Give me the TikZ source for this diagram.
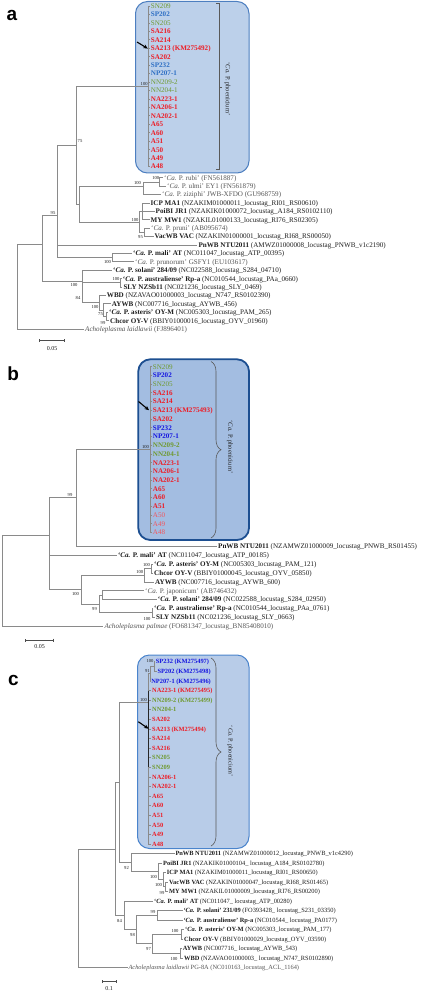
\documentclass[tikz,border=0pt]{standalone}
\usepackage{fontspec}
\setmainfont{Liberation Serif}
\newfontfamily\panelfont{Liberation Sans}
\usetikzlibrary{arrows.meta,decorations.pathreplacing}
\definecolor{treegray}{HTML}{8A8A8A}
\definecolor{txt}{HTML}{1E1E1E}
\definecolor{spgray}{HTML}{555555}
\definecolor{phred}{HTML}{EE1C25}
\definecolor{phgreen}{HTML}{6F9A2F}
\definecolor{phblueA}{HTML}{2E6FC4}
\definecolor{phblueB}{HTML}{1616E0}
\definecolor{boxAfill}{HTML}{BCD0EA}
\definecolor{boxAline}{HTML}{4D7FC0}
\definecolor{boxBfill}{HTML}{A3BDE1}
\definecolor{boxBline}{HTML}{1D4F91}
\definecolor{boxCfill}{HTML}{B8CCE8}
\definecolor{boxCline}{HTML}{4A84CC}
\newcommand\caP[1]{`\textit{Ca.} P. #1'}
\newcommand\tnode[4]{\coordinate (#1) at (#3,#4); \draw[br] (#2) |- (#1);}
\newcommand\tleaf[6]{\coordinate (#1) at (#3,#4); \draw[br] (#2) |- (#1); \node[#5] (#1t) at (#1) {#6};}
\begin{document}
\begin{tikzpicture}[x=1pt,y=-1pt,
  br/.style={draw=treegray, line width=0.75pt},
  boxA/.style={fill=boxAfill, draw=boxAline, line width=1pt, rounded corners=12pt},
  boxB/.style={fill=boxBfill, draw=boxBline, line width=1.8pt, rounded corners=12pt},
  boxC/.style={fill=boxCfill, draw=boxCline, line width=1pt, rounded corners=12pt},
  arr/.style={-{Stealth[length=4.5pt,width=4pt]}, line width=1.1pt, black},
  sbar/.style={draw=black!70, line width=0.7pt, {Bar[width=3pt]}-{Bar[width=3pt]}},
  brk/.style={draw=black!65, line width=0.6pt},
  brc/.style={draw=black!65, line width=0.6pt, decorate, decoration={brace, amplitude=10pt}},
  boot/.style={inner sep=0pt, font=\fontsize{4.6}{5}\selectfont, text=txt},
  sbt/.style={inner sep=0pt, font=\fontsize{6}{7}\selectfont, text=txt},
  labA/.style={inner sep=0pt, anchor=base west, xshift=1pt, yshift=-2.4pt, font=\fontsize{7.1}{8}\selectfont, text=txt},
  labC/.style={inner sep=0pt, anchor=base west, xshift=0.8pt, yshift=-2.2pt, font=\fontsize{6.4}{7}\selectfont, text=txt},
  spc/.style={text=spgray},
  bfx/.style={execute at begin node=\bfseries},
  rdc/.style={text=phred, bfx},
  lrc/.style={text=phred!75},
  gnc/.style={text=phgreen},
  gnb/.style={text=phgreen, bfx},
  blA/.style={text=phblueA, bfx},
  blB/.style={text=phblueB, bfx},
  phoe/.style={inner sep=0pt, rotate=-90, font=\fontsize{6.5}{7}\selectfont, text=txt},
  panel/.style={inner sep=0pt, font=\panelfont\bfseries\fontsize{19}{19}\selectfont}]
\useasboundingbox (0,0) rectangle (420,992);
\fill[white] (0,0) rectangle (420,992);

% ================= PANEL A =================
\node[panel] (pa) at (12,15) {a};
\draw[boxA] (135.5,1.5) rectangle (249,173);
\coordinate (Ra) at (17.7,244);
\tnode{N1a}{Ra}{42.3}{244}
\tnode{N2a}{N1a}{57.3}{215.7}
\tnode{N3a}{N2a}{76}{144.9}
\coordinate (cA) at (148.3,86.3); \draw[br] (N3a) |- (cA);
\tleaf{a0}{cA}{149.7}{6}{labA,gnc}{SN209}
\tleaf{a1}{cA}{149.7}{14.45}{labA,blA}{SP202}
\tleaf{a2}{cA}{149.7}{22.9}{labA,gnc}{SN205}
\tleaf{a3}{cA}{149.7}{31.35}{labA,rdc}{SA216}
\tleaf{a4}{cA}{149.7}{39.8}{labA,rdc}{SA214}
\tleaf{a5}{cA}{149.7}{48.25}{labA,rdc}{SA213 (KM275492)}
\tleaf{a6}{cA}{149.7}{56.7}{labA,rdc}{SA202}
\tleaf{a7}{cA}{149.7}{65.15}{labA,blA}{SP232}
\tleaf{a8}{cA}{149.7}{73.6}{labA,blA}{NP207-1}
\tleaf{a9}{cA}{149.7}{82.05}{labA,gnc}{NN209-2}
\tleaf{a10}{cA}{149.7}{90.5}{labA,gnc}{NN204-1}
\tleaf{a11}{cA}{149.7}{98.95}{labA,rdc}{NA223-1}
\tleaf{a12}{cA}{149.7}{107.4}{labA,rdc}{NA206-1}
\tleaf{a13}{cA}{149.7}{115.85}{labA,rdc}{NA202-1}
\tleaf{a14}{cA}{149.7}{124.3}{labA,rdc}{A65}
\tleaf{a15}{cA}{149.7}{132.75}{labA,rdc}{A60}
\tleaf{a16}{cA}{149.7}{141.2}{labA,rdc}{A51}
\tleaf{a17}{cA}{149.7}{149.65}{labA,rdc}{A50}
\tleaf{a18}{cA}{149.7}{158.1}{labA,rdc}{A49}
\tleaf{a19}{cA}{149.7}{166.55}{labA,rdc}{A48}
\tnode{N5a}{N3a}{79.5}{204}
\tnode{G1a}{N5a}{143.5}{186.1}
\tnode{G2a}{G1a}{159.5}{182}
\tleaf{rubiA}{G2a}{163}{177.8}{labA,spc}{\caP{rubi} (FN561887)}
\tleaf{ulmiA}{G2a}{166}{186.2}{labA,spc}{\caP{ulmi} EY1 (FN561879)}
\tleaf{ziziA}{G1a}{161}{194.6}{labA,spc}{\caP{ziziphi} JWB-XFDO (GU968759)}
\tnode{G3a}{N5a}{139.5}{221.9}
\tnode{G4a}{G3a}{142.5}{211.4}
\tleaf{icpA}{G4a}{149.5}{203}{labA}{\textbf{ICP MA1} (NZAKIM01000011\_locustag\_RI01\_RS00610)}
\tleaf{poiA}{G4a}{154.5}{211.4}{labA}{\textbf{PoiBI JR1} (NZAKIK01000072\_locustag\_A184\_RS0102110)}
\tleaf{myA}{G4a}{149.5}{219.8}{labA}{\textbf{MY MW1} (NZAKIL01000133\_locustag\_RI76\_RS02305)}
\tnode{G5a}{G3a}{144.5}{232.4}
\tleaf{pruA}{G5a}{150}{228.2}{labA,spc}{\caP{pruni} (AB095674)}
\tleaf{vacA}{G5a}{153.5}{236.6}{labA}{\textbf{VacWB VAC} (NZAKIN01000001\_locustag\_RI68\_RS00050)}
\tleaf{pnA}{N2a}{197.3}{245}{labA}{\textbf{PnWB NTU2011} (AMWZ01000008\_locustag\_PNWB\_v1c2190)}
\tnode{Ma}{N2a}{112}{257.6}
\tleaf{maliA}{Ma}{132}{253.4}{labA}{\textbf{\caP{mali} AT} (NC011047\_locustag\_ATP\_00395)}
\tleaf{pnmA}{Ma}{134}{261.8}{labA,spc}{\caP{prunorum} GSFY1 (EU103617)}
\tnode{N4a}{N1a}{82}{281}
\tleaf{solA}{N4a}{112}{270.2}{labA}{\textbf{\caP{solani} 284/09} (NC022588\_locustag\_S284\_04710)}
\tnode{AUa}{N4a}{120}{282.8}
\tleaf{ausA}{AUa}{121.7}{278.6}{labA}{\textbf{\caP{australiense} Rp-a} (NC010544\_locustag\_PAa\_0660)}
\tleaf{slyA}{AUa}{122.3}{287}{labA}{\textbf{SLY NZSb11} (NC021236\_locustag\_SLY\_0469)}
\tnode{N6a}{N4a}{99}{302.75}
\tleaf{wbdA}{N6a}{105.7}{295.4}{labA}{\textbf{WBD} (NZAVAO01000003\_locustag\_N747\_RS0102390)}
\tnode{N7a}{N6a}{103.5}{310.1}
\tleaf{aywA}{N7a}{110.7}{303.8}{labA}{\textbf{AYWB} (NC007716\_locustag\_AYWB\_456)}
\tnode{N8a}{N7a}{106}{316.4}
\tleaf{astA}{N8a}{108}{312.2}{labA}{\textbf{\caP{asteris} OY-M} (NC005303\_locustag\_PAM\_265)}
\tleaf{chcA}{N8a}{109}{320.6}{labA}{\textbf{Chcor OY-V} (BBIY01000016\_locustag\_OYV\_01960)}
\tleaf{achA}{Ra}{84}{329}{labA,spc}{\textit{Acholeplasma laidlawii} (FJ896401)}
% bootstrap a
\node[boot,anchor=south east] (bA1) at (147.8,86) {100};
\node[boot] (bA2) at (80,141) {75};
\node[boot] (bA3) at (53,212.5) {95};
\node[boot] (bA4) at (137.5,182.5) {100};
\node[boot] (bA5) at (155.8,178.2) {100};
\node[boot] (bA6) at (135,219.6) {100};
\node[boot] (bA7) at (140.5,236.8) {95};
\node[boot] (bA8) at (107.5,262) {100};
\node[boot] (bA9) at (116,279) {100};
\node[boot] (bA10) at (74,285) {100};
\node[boot] (bA11) at (78,297.5) {84};
\node[boot] (bA12) at (95,306.7) {100};
\node[boot] (bA13) at (100.5,314.3) {75};
\node[boot] (bA14) at (103,322.5) {99};
% bracket, label, arrow, scale a
\coordinate (brA1) at (216,3.3); \coordinate (brA2) at (219.5,3.3);
\coordinate (brA3) at (219.5,169.8); \coordinate (brA4) at (216,169.8);
\coordinate (brA5) at (219.5,87); \coordinate (brA6) at (221.8,87);
\draw[brk] (brA1) -- (brA2) -- (brA3) -- (brA4);
\draw[brk] (brA5) -- (brA6);
\node[phoe] (phA) at (227.5,89) {\caP{phoenicium}};
\coordinate (arA1) at (137,42); \coordinate (arA2) at (147.8,48.6);
\draw[arr] (arA1) -- (arA2);
\coordinate (sbA1) at (39.3,340.7); \coordinate (sbA2) at (65,340.7);
\draw[sbar] (sbA1) -- (sbA2);
\node[sbt] (sbAt) at (52.2,348.5) {0.05};

% ================= PANEL B =================
\node[panel] (pb) at (13.3,373.3) {b};
\draw[boxB] (138.3,359.3) rectangle (249,540);
\coordinate (Rb) at (2,535);
\tnode{B1b}{Rb}{49.3}{535}
\tnode{B2b}{B1b}{76}{497.8}
\coordinate (cB) at (150.5,449.54); \draw[br] (B2b) |- (cB);
\tleaf{b0}{cB}{151.7}{366.7}{labA,gnc}{SN209}
\tleaf{b1}{cB}{151.7}{375.42}{labA,blB}{SP202}
\tleaf{b2}{cB}{151.7}{384.14}{labA,gnc}{SN205}
\tleaf{b3}{cB}{151.7}{392.86}{labA,rdc}{SA216}
\tleaf{b4}{cB}{151.7}{401.58}{labA,rdc}{SA214}
\tleaf{b5}{cB}{151.7}{410.3}{labA,rdc}{SA213 (KM275493)}
\tleaf{b6}{cB}{151.7}{419.02}{labA,rdc}{SA202}
\tleaf{b7}{cB}{151.7}{427.74}{labA,blB}{SP232}
\tleaf{b8}{cB}{151.7}{436.46}{labA,blB}{NP207-1}
\tleaf{b9}{cB}{151.7}{445.18}{labA,gnb}{NN209-2}
\tleaf{b10}{cB}{151.7}{453.9}{labA,gnb}{NN204-1}
\tleaf{b11}{cB}{151.7}{462.62}{labA,rdc}{NA223-1}
\tleaf{b12}{cB}{151.7}{471.34}{labA,rdc}{NA206-1}
\tleaf{b13}{cB}{151.7}{480.06}{labA,rdc}{NA202-1}
\tleaf{b14}{cB}{151.7}{488.78}{labA,rdc}{A65}
\tleaf{b15}{cB}{151.7}{497.5}{labA,rdc}{A60}
\tleaf{b16}{cB}{151.7}{506.22}{labA,rdc}{A51}
\tleaf{b17}{cB}{151.7}{514.94}{labA,lrc}{A50}
\tleaf{b18}{cB}{151.7}{523.66}{labA,lrc}{A49}
\tleaf{b19}{cB}{151.7}{532.38}{labA,lrc}{A48}
\tleaf{pnB}{B2b}{217}{546}{labA}{\textbf{PnWB NTU2011} (NZAMWZ01000009\_locustag\_PNWB\_RS01455)}
\tleaf{maliB}{B1b}{116.8}{555.5}{labA}{\textbf{\caP{mali} AT} (NC011047\_locustag\_ATP\_00185)}
\tnode{B3b}{B1b}{81.7}{589.6}
\tnode{C1b}{B3b}{144.3}{575.3}
\tnode{C2b}{C1b}{151.7}{568.7}
\tleaf{astB}{C2b}{153}{564.3}{labA}{\textbf{\caP{asteris} OY-M} (NC005303\_locustag\_PAM\_121)}
\tleaf{chcB}{C2b}{153}{573.1}{labA}{\textbf{Chcor OY-V} (BBIY01000045\_locustag\_OYV\_05850)}
\tleaf{aywB}{C1b}{154}{581.9}{labA}{\textbf{AYWB} (NC007716\_locustag\_AYWB\_600)}
\tnode{B4b}{B3b}{99}{603.9}
\tnode{Jb}{B4b}{102.7}{595.1}
\tleaf{japB}{Jb}{144}{590.7}{labA,spc}{\caP{japonicum} (AB746432)}
\tleaf{solB}{Jb}{156.7}{599.5}{labA}{\textbf{\caP{solani} 284/09} (NC022588\_locustag\_S284\_02950)}
\tnode{AUb}{B4b}{152.3}{612.7}
\tleaf{ausB}{AUb}{153}{608.3}{labA}{\textbf{\caP{australiense} Rp-a} (NC010544\_locustag\_PAa\_0761)}
\tleaf{slyB}{AUb}{155}{617.1}{labA}{\textbf{SLY NZSb11} (NC021236\_locustag\_SLY\_0663)}
\tleaf{achB}{Rb}{103.3}{626}{labA,spc}{\textit{Acholeplasma palmae} (FO681347\_locustag\_BN85408010)}
% bootstrap b
\node[boot] (bB1) at (145.5,447.3) {100};
\node[boot] (bB2) at (70,494.5) {99};
\node[boot] (bB3) at (75.5,593.5) {100};
\node[boot] (bB4) at (146.5,564.5) {100};
\node[boot] (bB5) at (139.8,571.5) {100};
\node[boot] (bB6) at (94.5,609) {99};
\node[boot] (bB7) at (147,618.5) {100};
% brace, label, arrow, scale b
\coordinate (brB1) at (211,361.5); \coordinate (brB2) at (211,538);
\draw[brc] (brB1) -- (brB2);
\node[phoe] (phB) at (230,447) {\caP{phoenicium}};
\coordinate (arB1) at (138.5,401.5); \coordinate (arB2) at (149,410.2);
\draw[arr] (arB1) -- (arB2);
\coordinate (sbB1) at (25,640); \coordinate (sbB2) at (53.3,640);
\draw[sbar] (sbB1) -- (sbB2);
\node[sbt] (sbBt) at (39.5,646.5) {0.05};

% ================= PANEL C =================
\node[panel] (pc) at (13.3,680) {c};
\draw[boxC] (137.5,655) rectangle (249,848.5);
\coordinate (Rc) at (78.3,849);
\tnode{C1c}{Rc}{115}{849}
\tnode{C2c}{C1c}{119.3}{782.7}
\coordinate (cC) at (148.3,702.7); \draw[br] (C2c) |- (cC);
\tnode{T2c}{cC}{150}{673.7}
\tnode{T1c}{T2c}{154.3}{666.5}
\tleaf{c0}{T1c}{154.9}{661.7}{labC,blB}{SP232 (KM275497)}
\tleaf{c1}{T1c}{156.5}{671.3}{labC,blB}{SP202 (KM275498)}
\tleaf{c2}{T2c}{150.3}{680.9}{labC,blB}{NP207-1 (KM275496)}
\tleaf{c3}{cC}{151.2}{690.5}{labC,rdc}{NA223-1 (KM275495)}
\tleaf{c4}{cC}{151.2}{700.1}{labC,gnb}{NN209-2 (KM275499)}
\tleaf{c5}{cC}{151.2}{709.7}{labC,gnb}{NN204-1}
\tleaf{c6}{cC}{151.2}{719.3}{labC,rdc}{SA202}
\tleaf{c7}{cC}{151.2}{728.9}{labC,rdc}{SA213 (KM275494)}
\tleaf{c8}{cC}{151.2}{738.5}{labC,rdc}{SA214}
\tleaf{c9}{cC}{151.2}{748.1}{labC,rdc}{SA216}
\tleaf{c10}{cC}{151.2}{757.7}{labC,gnb}{SN205}
\tleaf{c11}{cC}{151.2}{767.3}{labC,gnb}{SN209}
\tleaf{c12}{cC}{151.2}{776.9}{labC,rdc}{NA206-1}
\tleaf{c13}{cC}{151.2}{786.5}{labC,rdc}{NA202-1}
\tleaf{c14}{cC}{151.2}{796.1}{labC,rdc}{A65}
\tleaf{c15}{cC}{151.2}{805.7}{labC,rdc}{A60}
\tleaf{c16}{cC}{151.2}{815.3}{labC,rdc}{A51}
\tleaf{c17}{cC}{151.2}{824.9}{labC,rdc}{A50}
\tleaf{c18}{cC}{151.2}{834.5}{labC,rdc}{A49}
\tleaf{c19}{cC}{151.2}{844.1}{labC,rdc}{A48}
\coordinate (cCt) at (148.3,690.5); \coordinate (cCb) at (148.3,767.3);
\draw[line width=1pt, black!85] (cCt) -- (cCb);
\tnode{C4c}{C2c}{131.7}{862.7}
\tleaf{pnC}{C4c}{174.5}{853.6}{labC}{\textbf{PnWB NTU2011} (NZAMWZ01000012\_locustag\_PNWB\_v1c4290)}
\tnode{C5c}{C4c}{158}{871.7}
\tleaf{poiC}{C5c}{162.2}{863.1}{labC}{\textbf{PoiBI JR1} (NZAKIK01000104\_ locustag\_A184\_RS0102780)}
\tnode{C6c}{C5c}{163}{879.75}
\tleaf{icpC}{C6c}{165.9}{872.6}{labC}{\textbf{ICP MA1} (NZAKIM01000011\_locustag\_RI01\_RS00650)}
\tnode{C7c}{C6c}{165.5}{886.85}
\tleaf{vacC}{C7c}{168.2}{882.1}{labC}{\textbf{VacWB VAC} (NZAKIN01000047\_locustag\_RI68\_RS01465)}
\tleaf{myC}{C7c}{168.2}{891.6}{labC}{\textbf{MY MW1} (NZAKIL01000009\_locustag\_RI76\_RS00200)}
\tnode{C3c}{C1c}{124}{915.35}
\tleaf{maliC}{C3c}{153.2}{901.1}{labC}{\textbf{\caP{mali} AT} (NC011047\_ locustag\_ATP\_00280)}
\tnode{C8c}{C3c}{136.7}{929.6}
\tnode{SAc}{C8c}{157.3}{915.35}
\tleaf{solC}{SAc}{182.5}{910.6}{labC}{\textbf{\caP{solani} 231/09} (FO393428\_ locustag\_S231\_03350)}
\tleaf{ausC}{SAc}{182.5}{920.1}{labC}{\textbf{\caP{australiense} Rp-a} (NC010544\_ locustag\_PA0177)}
\tnode{C9c}{C8c}{152.3}{943.85}
\tnode{C10c}{C9c}{181.7}{934.35}
\tleaf{astC}{C10c}{184.2}{929.6}{labC}{\textbf{\caP{asteris} OY-M} (NC005303\_locustag\_PAM\_177)}
\tleaf{chcC}{C10c}{183.2}{939.1}{labC}{\textbf{Chcor OY-V} (BBIY01000029\_locustag\_OYV\_03590)}
\tnode{C11c}{C9c}{180}{953.35}
\tleaf{aywC}{C11c}{181.9}{948.6}{labC}{\textbf{AYWB} (NC007716\_ locustag\_AYWB\_543)}
\tleaf{wbdC}{C11c}{183.2}{958.1}{labC}{\textbf{WBD} (NZAVAO01000003\_ locustag\_N747\_RS0102890)}
\tleaf{achC}{Rc}{127.5}{967.6}{labC,spc}{\textit{Acholeplasma laidlawii} PG-8A (NC010163\_locustag\_ACL\_1164)}
% bootstrap c
\node[boot] (bC1) at (150,661.3) {100};
\node[boot] (bC2) at (147.3,670.7) {91};
\node[boot] (bC3) at (143.5,699.5) {100};
\node[boot] (bC4) at (126.5,868) {92};
\node[boot] (bC5) at (153.5,876.7) {100};
\node[boot] (bC6) at (158.5,884.7) {100};
\node[boot] (bC7) at (162,892.5) {99};
\node[boot] (bC8) at (119.5,920.5) {84};
\node[boot] (bC9) at (132.5,935) {98};
\node[boot] (bC10) at (153,911.8) {99};
\node[boot] (bC11) at (175,930.5) {100};
\node[boot] (bC12) at (148.5,949.3) {97};
\node[boot] (bC13) at (174,959) {100};
% brace, label, arrow, scale c
\coordinate (brC1) at (211,658); \coordinate (brC2) at (211,846);
\draw[brc] (brC1) -- (brC2);
\node[phoe, font=\fontsize{6.2}{7}\selectfont] (phC) at (230,751) {\caP{phoenicium}};
\coordinate (arC1) at (138.3,721.7); \coordinate (arC2) at (148.5,728.7);
\draw[arr] (arC1) -- (arC2);
\coordinate (sbC1) at (101.7,981.7); \coordinate (sbC2) at (116.7,981.7);
\draw[sbar] (sbC1) -- (sbC2);
\node[sbt] (sbCt) at (109.2,988.5) {0.1};
\end{tikzpicture}
\end{document}
